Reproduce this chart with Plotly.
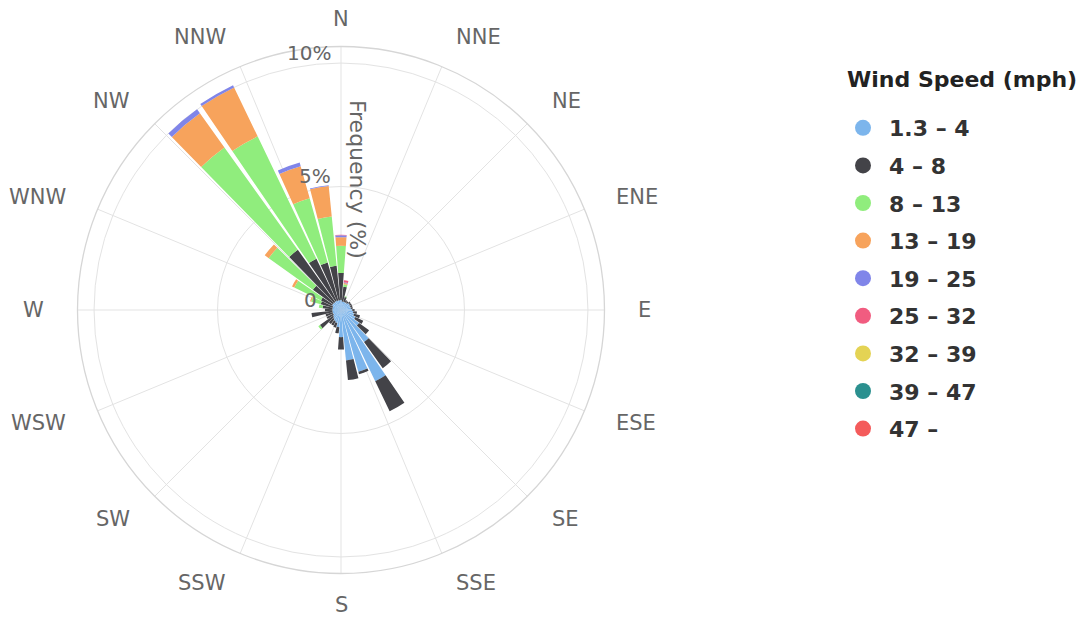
import math
import plotly.graph_objects as go

# Directions (degrees, every 10°)
directions = list(range(0, 360, 10))

# Compass labels (16 points)
compass_vals = [i * 22.5 for i in range(16)]
compass_text = ["N", "NNE", "NE", "ENE", "E", "ESE", "SE", "SSE",
                "S", "SSW", "SW", "WSW", "W", "WNW", "NW", "NNW"]

speed_classes = ["1.3 – 4", "4 – 8", "8 – 13", "13 – 19", "19 – 25",
                 "25 – 32", "32 – 39", "39 – 47", "47 –"]
colors = ["#7cb5ec", "#434348", "#90ed7d", "#f7a35c", "#8085e9",
          "#f15c80", "#e4d354", "#2b908f", "#f45b5b"]

# Frequency (%) per direction, one list per speed class
s_1_4 = [0.40, 0.35, 0.35, 0.35, 0.35, 0.40, 0.40, 0.40, 0.40, 0.45, 0.50, 0.55,
         0.65, 0.90, 1.60, 3.20, 2.60, 2.05, 1.10, 0.70, 0.55, 0.50, 0.45, 0.40,
         0.35, 0.35, 0.35, 0.35, 0.35, 0.35, 0.40, 0.40, 0.40, 0.40, 0.40, 0.40]
s_4_8 = [1.10, 0.60, 0.20, 0.10, 0.08, 0.08, 0.08, 0.08, 0.08, 0.10, 0.15, 0.25,
         0.35, 0.50, 1.30, 1.35, 0.10, 0.80, 0.50, 0.25, 0.20, 0.20, 0.25, 0.65,
         0.30, 0.30, 0.85, 0.30, 0.40, 0.50, 0.50, 1.00, 2.60, 1.90, 1.60, 1.40]
s_8_13 = [1.10, 0.10, 0.03, 0.00, 0.00, 0.00, 0.00, 0.00, 0.00, 0.00, 0.00, 0.00,
          0.00, 0.00, 0.00, 0.00, 0.00, 0.00, 0.00, 0.00, 0.00, 0.00, 0.00, 0.08,
          0.00, 0.00, 0.00, 0.00, 0.15, 0.40, 1.20, 2.20, 5.10, 5.50, 2.70, 2.00]
s_13_19 = [0.35, 0.05, 0.00, 0.00, 0.00, 0.00, 0.00, 0.00, 0.00, 0.00, 0.00, 0.00,
           0.00, 0.00, 0.00, 0.00, 0.00, 0.00, 0.00, 0.00, 0.00, 0.00, 0.00, 0.00,
           0.00, 0.00, 0.00, 0.00, 0.00, 0.05, 0.10, 0.20, 1.70, 2.20, 1.35, 1.25]
s_19_25 = [0.08, 0.03, 0.00, 0.00, 0.00, 0.00, 0.00, 0.00, 0.00, 0.00, 0.00, 0.00,
           0.00, 0.00, 0.00, 0.00, 0.00, 0.00, 0.00, 0.00, 0.00, 0.00, 0.00, 0.00,
           0.00, 0.00, 0.00, 0.00, 0.00, 0.00, 0.00, 0.00, 0.20, 0.10, 0.15, 0.03]
s_25_32 = [0.02, 0.08, 0.00, 0.00, 0.00, 0.00, 0.00, 0.00, 0.00, 0.00, 0.00, 0.00,
           0.00, 0.00, 0.00, 0.00, 0.00, 0.00, 0.00, 0.00, 0.00, 0.00, 0.00, 0.00,
           0.00, 0.00, 0.00, 0.00, 0.00, 0.00, 0.00, 0.00, 0.00, 0.00, 0.00, 0.00]
s_32_39 = [0.0] * 36
s_39_47 = [0.0] * 36
s_47 = [0.0] * 36

series = [s_1_4, s_4_8, s_8_13, s_13_19, s_19_25, s_25_32, s_32_39, s_39_47, s_47]

radial_ticks = [0, 5, 10]
radial_text = ["0", "5%", "10%"]
radial_label_shift = [-22, -8, -8]
R_MAX = 10.67

FONT = "DejaVu Sans"
W, H = 1090, 621
OFF = 8  # page body margin of the html page
# target geometry of the polar pane (screen pixels)
CX, CY, RAD = 341, 310, 263.5
LABEL_R = 295


def px(x):
    return (x - OFF) / W


def py(y):
    return 1 - (y - OFF) / H


fig = go.Figure()
for name, col, vals in zip(speed_classes, colors, series):
    fig.add_trace(go.Barpolar(
        r=vals, theta=directions, width=8.7, name=name,
        marker=dict(color=col, line=dict(width=0)),
        showlegend=False, legendgroup=name,
    ))
for name, col in zip(speed_classes, colors):
    fig.add_trace(go.Scatterpolar(
        r=[None], theta=[None], mode="markers", name=name,
        marker=dict(color=col, size=18, symbol="circle"),
        showlegend=True, legendgroup=name,
    ))

annotations = []
# compass labels around the pane
for ang, txt in zip(compass_vals, compass_text):
    s, c = math.sin(math.radians(ang)), math.cos(math.radians(ang))
    xa = "center" if abs(s) < 0.01 else ("left" if s > 0 else "right")
    lr = LABEL_R - 4 if c > 0.99 else LABEL_R  # keep the top label inside the page
    annotations.append(dict(
        text=txt, x=px(CX + lr * s), y=py(CY - lr * c),
        xref="paper", yref="paper", xanchor=xa, yanchor="middle",
        showarrow=False, font=dict(size=21, color="#666666", family=FONT),
    ))
# radial tick labels
for v, txt, sh in zip(radial_ticks, radial_text, radial_label_shift):
    yy = CY - v / R_MAX * RAD - 10.5
    annotations.append(dict(
        text=txt, x=px(CX), y=py(yy), xref="paper", yref="paper",
        xanchor="right", yanchor="middle", xshift=sh, showarrow=False,
        font=dict(size=20, color="#666666", family=FONT),
    ))
annotations.append(dict(
    text="Frequency (%)", textangle=90,
    x=px(358), y=py(179), xref="paper", yref="paper",
    xanchor="center", yanchor="middle", showarrow=False,
    font=dict(size=22, color="#666666", family=FONT),
))
annotations.append(dict(
    text="Wind Speed (mph)", x=px(845), y=py(80), xref="paper", yref="paper",
    xanchor="left", yanchor="middle", showarrow=False,
    font=dict(size=22, color="#222222", family=FONT, weight="bold"),
))

fig.update_layout(
    width=W, height=H,
    margin=dict(l=0, r=0, t=0, b=0),
    paper_bgcolor="white",
    font=dict(family=FONT, color="#666666"),
    polar=dict(
        domain=dict(x=[px(CX - RAD), px(CX + RAD)],
                    y=[py(CY + RAD), py(CY - RAD)]),
        bgcolor="white",
        barmode="stack",
        bargap=0,
        angularaxis=dict(
            rotation=90, direction="clockwise",
            tickmode="array", tickvals=compass_vals, ticktext=compass_text,
            showticklabels=False, ticks="",
            showgrid=True, gridcolor="#e3e3e3", gridwidth=1.2,
            showline=True, linecolor="#d6d6d6", linewidth=1.3,
        ),
        radialaxis=dict(
            range=[0, R_MAX], angle=90,
            tickmode="array", tickvals=radial_ticks,
            showticklabels=False, ticks="",
            showgrid=True, gridcolor="#e3e3e3", gridwidth=1.2,
            showline=False,
        ),
    ),
    legend=dict(
        x=(835 - 6) / W, y=py(107), xanchor="left", yanchor="top",
        font=dict(size=22, color="#333333", family=FONT, weight="bold"),
        tracegroupgap=6, itemsizing="trace", itemwidth=42,
        bgcolor="rgba(0,0,0,0)",
    ),
    annotations=annotations,
)

fig.write_html("out.html")
